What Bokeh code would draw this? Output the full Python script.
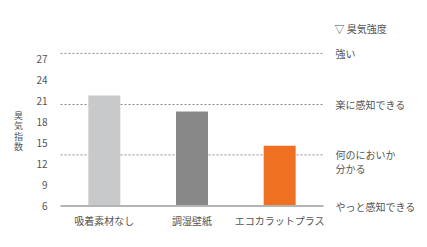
from bokeh.plotting import figure
from bokeh.models import Range1d
from bokeh.core.properties import value
from bokeh.embed import file_html
from bokeh.resources import INLINE

categories = ["吸着素材なし", "調湿壁紙", "エコカラットプラス"]
odor_index = [21.8, 19.5, 14.6]
bar_colors = ["#c8c9ca", "#888888", "#f07021"]
y_ticks = [6, 9, 12, 15, 18, 21, 24, 27]
threshold_values = [27.8, 20.5, 13.3]
intensity_labels = ["強い", "楽に感知できる", "何のにおいか", "分かる", "やっと感知できる"]
intensity_positions = [27.8, 20.5, 13.3, 11.3, 5.9]
legend_title = "▽ 臭気強度"
y_title_chars = ["臭", "気", "指", "数"]

FONT = value("Noto Sans CJK JP")
TXT = "#555555"

# frame covers the whole canvas; 1 category = 87.67 px, 1 index unit = 7 px
PXX = 87.67
PXY = 7.0
x0, x1 = -60 / PXX, (427 - 60) / PXX
y0, y1 = 6 - (247 - 205.5) / PXY, 6 + 205.5 / PXY

def sx(px):
    return (px - 60) / PXX

def sy(px):
    return 6 + (205.5 - px) / PXY

p = figure(width=427, height=247, x_range=Range1d(x0, x1), y_range=Range1d(y0, y1),
           output_backend="svg", toolbar_location=None,
           min_border_left=0, min_border_right=0, min_border_top=0, min_border_bottom=0)
p.axis.visible = False
p.grid.visible = False
p.outline_line_color = None
p.background_fill_color = "white"
p.border_fill_color = "white"

centers = [i + 0.5 for i in range(len(categories))]

# dotted reference lines
p.segment(x0=[0] * len(threshold_values), x1=[len(categories)] * len(threshold_values),
          y0=threshold_values, y1=threshold_values,
          line_color="#8a8a8a", line_dash="2 2", line_width=1)

# bars
p.vbar(x=centers, top=odor_index, bottom=6, width=0.365, color=bar_colors, line_color=None)

# baseline
p.segment(x0=[0], x1=[len(categories)], y0=[6], y1=[6], line_color="#b4b4b4", line_width=2)

# y tick labels
p.text(x=[sx(47)] * len(y_ticks), y=y_ticks, text=[str(t) for t in y_ticks],
       text_font=FONT, text_font_size="10px", text_color=TXT,
       text_align="right", text_baseline="middle")

# category labels
p.text(x=centers, y=[sy(220)] * len(categories), text=categories,
       text_font=FONT, text_font_size="10px", text_color=TXT,
       text_align="center", text_baseline="middle")

# right-side intensity labels
p.text(x=[sx(335)] * len(intensity_labels), y=intensity_positions, text=intensity_labels,
       text_font=FONT, text_font_size="10px", text_color=TXT,
       text_align="left", text_baseline="middle")

p.text(x=[sx(334)], y=[sy(28)], text=[legend_title],
       text_font=FONT, text_font_size="10px", text_color=TXT,
       text_align="left", text_baseline="middle")

# stacked y title
p.text(x=[sx(18)] * len(y_title_chars), y=[sy(115 + 10.3 * i) for i in range(len(y_title_chars))],
       text=y_title_chars, text_font=FONT, text_font_size="9px", text_color=TXT,
       text_align="center", text_baseline="middle")

open("out.html", "w").write(file_html(p, INLINE))
